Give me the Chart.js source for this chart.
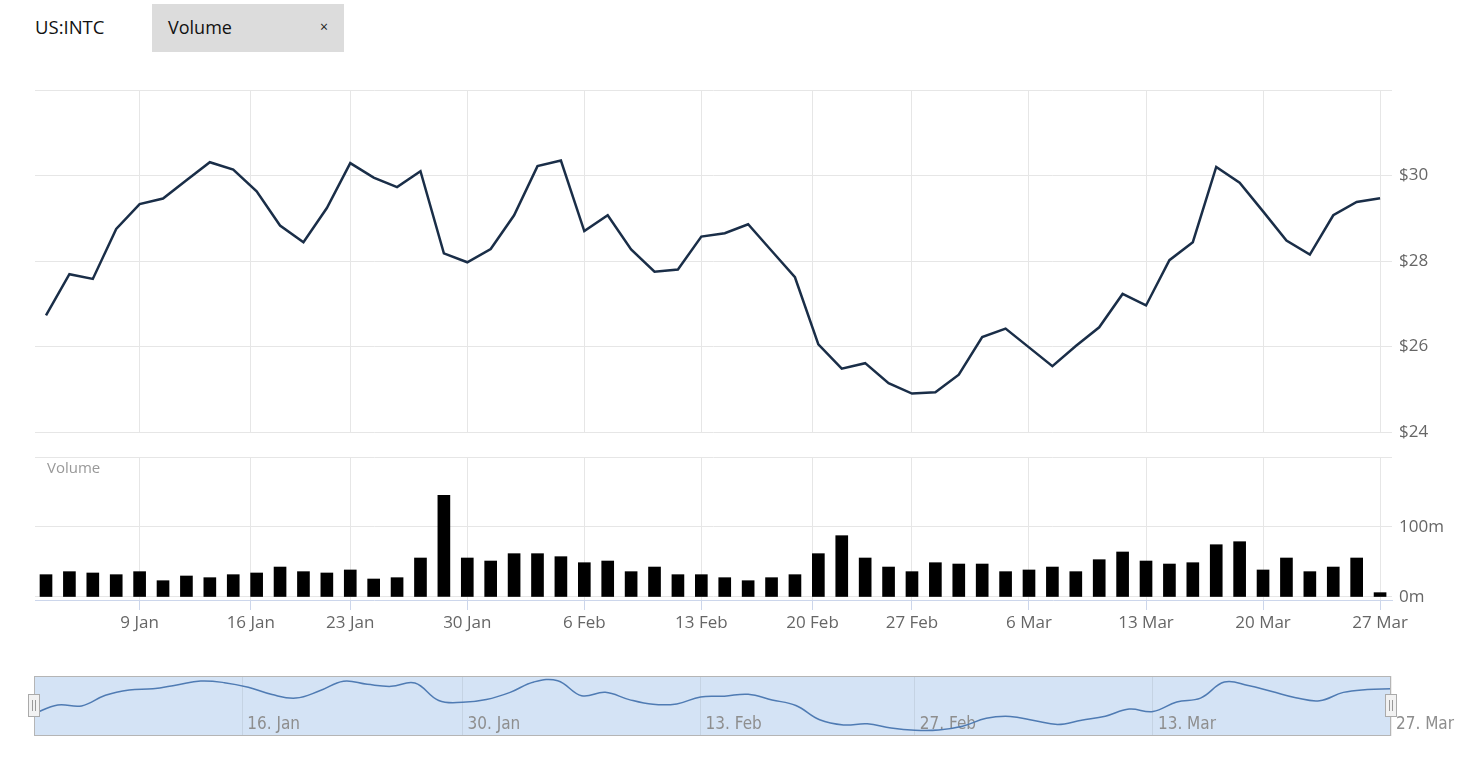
<!DOCTYPE html>
<html><head><meta charset="utf-8">
<script src="https://cdn.jsdelivr.net/npm/chart.js@4/dist/chart.umd.min.js"></script>
<style>
html,body{margin:0;padding:0;background:#fff;}
body{width:1483px;height:770px;position:relative;overflow:hidden;font-family:'Open Sans',sans-serif;}
#sym{position:absolute;left:35px;top:15px;font-size:18.5px;color:#111;line-height:24px;}
#tag{position:absolute;left:152px;top:4px;width:192px;height:48px;background:#dcdcdc;}
#tag .t{position:absolute;left:16px;top:11px;font-size:18px;line-height:24px;color:#111;}
#tag .x{position:absolute;left:168px;top:12px;font-size:14px;line-height:22px;color:#222;}
#vlab{position:absolute;left:47px;top:457px;font-size:15px;color:#999;line-height:20px;}
canvas{position:absolute;left:0;}
</style></head>
<body>
<div id="sym">US:INTC</div>
<div id="tag"><span class="t">Volume</span><span class="x">×</span></div>
<canvas id="price" width="1483" height="452" style="top:0"></canvas>
<canvas id="vol" width="1483" height="206" style="top:439px"></canvas>
<canvas id="nav" width="1483" height="120" style="top:650px"></canvas>
<div id="vlab">Volume</div>
<script>
// ---- data ----
const tradingDays = [
  '2017-01-03','2017-01-04','2017-01-05','2017-01-06','2017-01-09','2017-01-10','2017-01-11','2017-01-12','2017-01-13',
  '2017-01-17','2017-01-18','2017-01-19','2017-01-20','2017-01-23','2017-01-24','2017-01-25','2017-01-26','2017-01-27',
  '2017-01-30','2017-01-31','2017-02-01','2017-02-02','2017-02-03','2017-02-06','2017-02-07','2017-02-08','2017-02-09',
  '2017-02-10','2017-02-13','2017-02-14','2017-02-15','2017-02-16','2017-02-17','2017-02-21','2017-02-22','2017-02-23',
  '2017-02-24','2017-02-27','2017-02-28','2017-03-01','2017-03-02','2017-03-03','2017-03-06','2017-03-07','2017-03-08',
  '2017-03-09','2017-03-10','2017-03-13','2017-03-14','2017-03-15','2017-03-16','2017-03-17','2017-03-20','2017-03-21',
  '2017-03-22','2017-03-23','2017-03-24','2017-03-27'
];
const closePrices = [
  26.73,27.69,27.58,28.75,29.33,29.46,29.89,30.31,30.14,29.63,28.83,28.44,29.24,30.29,29.95,29.73,30.10,28.18,27.97,28.28,
  29.07,30.22,30.35,28.70,29.07,28.27,27.75,27.80,28.57,28.65,28.86,28.24,27.62,26.05,25.48,25.61,25.14,24.90,24.93,
  25.34,26.22,26.42,25.98,25.54,26.01,26.45,27.23,26.96,28.02,28.44,30.20,29.83,29.16,28.48,28.15,29.07,29.38,29.47
];
const volumesM = [
  31.9,36.2,34.3,31.9,36.2,23.3,30.0,27.6,31.9,34.3,42.8,36.2,34.3,38.6,25.7,27.6,55.7,145.2,55.7,51.4,
  61.9,61.9,57.6,49.0,51.4,36.2,42.8,31.9,31.9,27.6,23.3,27.6,31.9,61.9,87.6,55.7,42.8,36.2,49.0,
  47.1,47.1,36.2,38.6,42.8,36.2,53.3,64.3,51.4,47.1,49.0,74.7,79.0,38.6,55.7,36.2,42.8,55.7,6.2
];
const mainTickDates = ['2017-01-09','2017-01-16','2017-01-23','2017-01-30','2017-02-06','2017-02-13','2017-02-20','2017-02-27','2017-03-06','2017-03-13','2017-03-20','2017-03-27'];
const mainTickLabels = ['9 Jan','16 Jan','23 Jan','30 Jan','6 Feb','13 Feb','20 Feb','27 Feb','6 Mar','13 Mar','20 Mar','27 Mar'];
const navTickDates = ['2017-01-16','2017-01-30','2017-02-13','2017-02-27','2017-03-13','2017-03-27'];
const navTickLabels = ['16. Jan','30. Jan','13. Feb','27. Feb','13. Mar','27. Mar'];
const priceTicks = [24,26,28,30,32];
const volumeTicks = [0,100,200];

// ---- helpers: ordinal (trading-day) positions ----
const dayNum = s => Date.parse(s + 'T00:00:00Z') / 86400000;
const dayNums = tradingDays.map(dayNum);
function ordinalPos(s){
  const t = dayNum(s);
  for (let i = 0; i < dayNums.length - 1; i++){
    if (t >= dayNums[i] && t <= dayNums[i+1]) return i + (t - dayNums[i]) / (dayNums[i+1] - dayNums[i]);
  }
  return dayNums.length - 1;
}
const mainTickPos = mainTickDates.map(ordinalPos);
const navTickPos = navTickDates.map(ordinalPos);
const pricePoints = tradingDays.map((d,i)=>({x:i, y:closePrices[i]}));
const volumePoints = tradingDays.map((d,i)=>({x:i, y:volumesM[i]}));

const X_MIN = -0.47, X_MAX = 57.51;
const GRID = '#e6e6e6';
const tickFont = {family:"'Open Sans', sans-serif", size:17};
const noPlug = {legend:{display:false}, tooltip:{enabled:false}};

// ---- price chart ----
new Chart(document.getElementById('price'), {
  type:'line',
  data:{datasets:[{data:pricePoints, borderColor:'#1a2e48', borderWidth:2.5, pointRadius:0, tension:0, fill:false}]},
  options:{
    responsive:false, animation:false, events:[],
    layout:{padding:{left:35, top:90, right:0, bottom:20}},
    plugins:noPlug,
    scales:{
      x:{type:'linear', min:X_MIN, max:X_MAX,
         afterBuildTicks:s=>{s.ticks = mainTickPos.map(v=>({value:v}));},
         afterFit:s=>{s.height = 0;},
         ticks:{display:false}, grid:{color:GRID, drawTicks:false}, border:{display:false}},
      y:{position:'right', min:24, max:32,
         afterBuildTicks:s=>{s.ticks = priceTicks.map(v=>({value:v}));},
         afterFit:s=>{s.width = 91;},
         ticks:{padding:7, color:'#666', font:tickFont, callback:v => v===32 ? '' : '$'+v},
         grid:{color:GRID, drawTicks:false}, border:{display:false}}
    }
  }
});

// ---- volume chart ----
new Chart(document.getElementById('vol'), {
  type:'bar',
  data:{datasets:[{data:volumePoints, backgroundColor:'#000', barThickness:12, borderWidth:0}]},
  options:{
    responsive:false, animation:false, events:[],
    layout:{padding:{left:35, top:18, right:0, bottom:0}},
    plugins:noPlug,
    scales:{
      x:{type:'linear', min:X_MIN, max:X_MAX, offset:false,
         afterBuildTicks:s=>{s.ticks = mainTickPos.map(v=>({value:v}));},
         afterFit:s=>{s.height = 45;},
         ticks:{autoSkip:false, maxRotation:0, padding:3, color:'#666', font:tickFont, callback:(v,i)=>mainTickLabels[i]},
         grid:{offset:false, color:GRID, tickColor:'#ccd6eb', tickLength:10},
         border:{color:'#ccd6eb', width:1}},
      y:{position:'right', min:-4.29, max:200,
         afterBuildTicks:s=>{s.ticks = volumeTicks.map(v=>({value:v}));},
         afterFit:s=>{s.width = 91;},
         ticks:{padding:7, color:'#666', font:tickFont, callback:v => v===200 ? '' : v+'m'},
         grid:{color:GRID, drawTicks:false}, border:{display:false}}
    }
  }
});

// ---- navigator ----
const navFrame = {
  id:'navFrame',
  beforeDraw(c){
    const a = c.chartArea, x = c.ctx;
    x.save(); x.fillStyle = '#d4e3f5'; x.fillRect(a.left, a.top, a.right-a.left, a.bottom-a.top); x.restore();
  },
  afterDraw(c){
    const a = c.chartArea, x = c.ctx;
    x.save();
    x.strokeStyle = '#b5b5b5'; x.lineWidth = 1;
    x.strokeRect(Math.round(a.left)+0.5, Math.round(a.top)+0.5, Math.round(a.right-a.left)-1, Math.round(a.bottom-a.top)-1);
    [a.left, a.right].forEach(cx => {
      cx = Math.round(cx);
      x.fillStyle = '#f2f2f2'; x.strokeStyle = '#aaaaaa';
      x.fillRect(cx-6, a.top+18, 12, 23);
      x.strokeRect(cx-5.5, a.top+18.5, 11, 22);
      x.strokeStyle = '#999';
      x.beginPath();
      x.moveTo(cx-1.5, a.top+24); x.lineTo(cx-1.5, a.top+35);
      x.moveTo(cx+1.5, a.top+24); x.lineTo(cx+1.5, a.top+35);
      x.stroke();
    });
    x.restore();
  }
};
new Chart(document.getElementById('nav'), {
  type:'line',
  data:{datasets:[{data:pricePoints, borderColor:'#4f7bb3', borderWidth:1.5, pointRadius:0, tension:0.4, fill:false}]},
  options:{
    responsive:false, animation:false, events:[],
    layout:{padding:{left:34, top:26, right:92, bottom:0}},
    plugins:noPlug,
    scales:{
      x:{type:'linear', min:0, max:tradingDays.length-1,
         afterBuildTicks:s=>{s.ticks = navTickPos.map(v=>({value:v}));},
         afterFit:s=>{s.height = 34;},
         ticks:{align:'start', mirror:true, labelOffset:5, padding:1, autoSkip:false, maxRotation:0, color:'#8e8e8e',
                font:{family:"'Liberation Sans Narrow', 'DejaVu Sans Condensed', 'Open Sans', sans-serif", size:17},
                callback:(v,i)=>navTickLabels[i]},
         grid:{color:'rgba(0,0,0,0.07)', drawTicks:false}, border:{display:false}},
      y:{display:false, min:24.27, max:30.87}
    }
  },
  plugins:[navFrame]
});
</script>
</body></html>
